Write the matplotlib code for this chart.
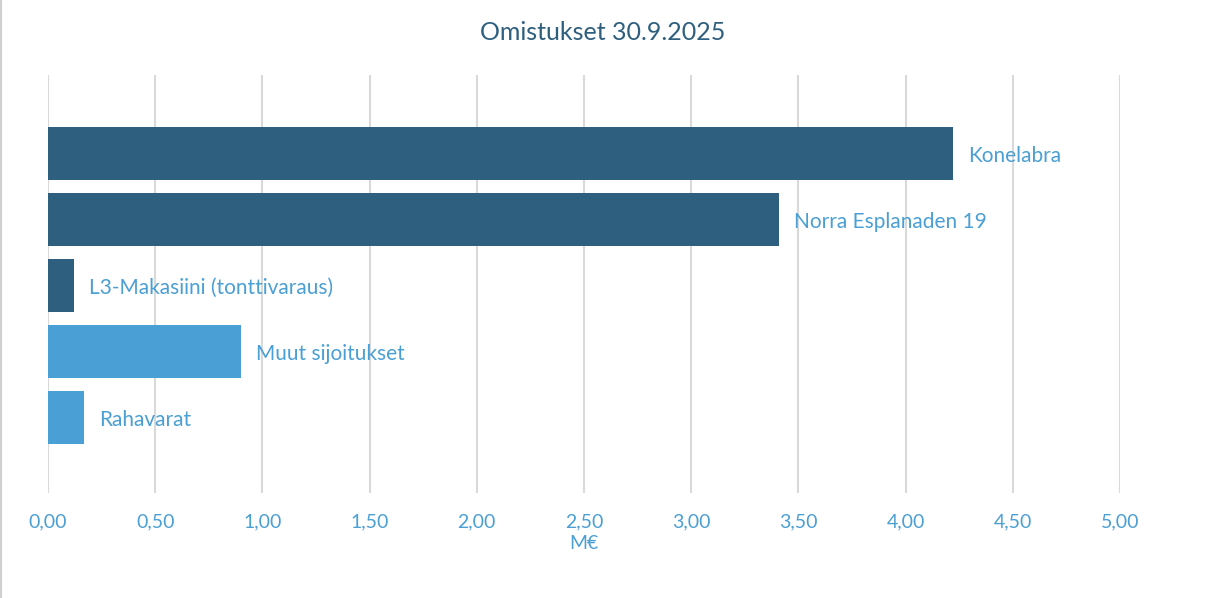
import matplotlib
matplotlib.use("Agg")
import matplotlib.pyplot as plt
from matplotlib.ticker import FuncFormatter
from matplotlib.lines import Line2D

categories = ["Konelabra", "Norra Esplanaden 19", "L3-Makasiini (tonttivaraus)",
              "Muut sijoitukset", "Rahavarat"]
values = [4.22, 3.41, 0.12, 0.90, 0.17]
bar_colors = ["#2E5F7E", "#2E5F7E", "#2E5F7E", "#4A9FD4", "#4A9FD4"]
xticks = [0, 0.5, 1, 1.5, 2, 2.5, 3, 3.5, 4, 4.5, 5]
title = "Omistukset 30.9.2025"
xlabel = "M€"

plt.rcParams['font.family'] = ['Lato', 'DejaVu Sans']
label_color = "#4A9FD4"
title_color = "#2E5F7E"

W, H = 1206, 598
fig = plt.figure(figsize=(W / 100, H / 100), dpi=100)
fig.add_artist(Line2D([0.5 / W, 0.5 / W], [0, 1], color="#D0D0D0", linewidth=1.5,
                      transform=fig.transFigure))

left, right, top, bottom = 48, 1120, 75, 493
ax = fig.add_axes([left / W, 1 - bottom / H, (right - left) / W, (bottom - top) / H])

ypos = list(range(len(categories)))
ax.barh(ypos, values, height=0.8, color=bar_colors, zorder=3)
for y, v, c in zip(ypos, values, categories):
    ax.text(v + 0.07, y + 0.04, c, va="center", ha="left", color=label_color,
            fontsize=15, zorder=4)

ax.set_xlim(0, 5)
ax.set_ylim(5.14, -1.19)
ax.set_xticks(xticks)
ax.xaxis.set_major_formatter(FuncFormatter(lambda x, p: f"{x:.2f}".replace(".", ",")))
ax.set_yticks([])
ax.grid(axis="x", color="#D9D9D9", linewidth=1.5, zorder=0)
for s in ax.spines.values():
    s.set_visible(False)
ax.tick_params(axis="x", length=0, pad=15, labelcolor=label_color, labelsize=14)
ax.set_xlabel(xlabel, color=label_color, fontsize=14, labelpad=3)

fig.text(0.5, 1 - 32 / H, title, ha="center", va="center",
         color=title_color, fontsize=18)

fig.savefig("out.png", dpi=100)
